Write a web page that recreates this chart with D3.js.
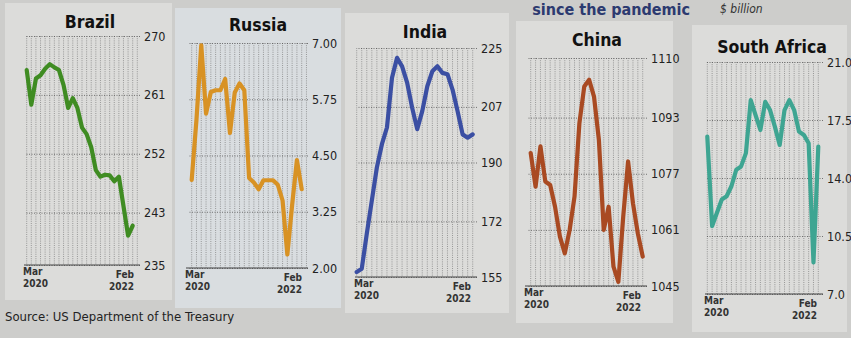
<!DOCTYPE html>
<html><head><meta charset="utf-8">
<script src="https://cdn.jsdelivr.net/npm/d3@7"></script>
<style>
body{margin:0;background:#cdcdcb;}
svg{display:block;}
text{font-family:"DejaVu Sans",sans-serif;font-stretch:condensed;fill:#222;}
</style></head><body>
<svg id="c" width="851" height="338"></svg>
<script>
// ---- data (monthly, Mar 2020 – Feb 2022), $ billion ----
const months = ["Mar 2020","Apr","May","Jun","Jul","Aug","Sep","Oct","Nov","Dec","Jan 2021","Feb","Mar","Apr","May","Jun","Jul","Aug","Sep","Oct","Nov","Dec","Jan 2022","Feb 2022"];
const countries = ["Brazil","Russia","India","China","South Africa"];
const brazil = [264.8,259.5,263.5,264,265,265.7,265.2,264.8,262.5,259,260.5,259,256,255,253,249.5,248.5,248.8,248.7,247.8,248.5,244,239.5,241];
const russia = [3.96,5.3,6.95,5.43,5.91,5.95,5.95,6.2,5.0,5.9,6.1,5.95,4.0,3.9,3.75,3.95,3.95,3.95,3.85,3.5,2.3,3.4,4.4,3.75];
const india = [156.5,157.5,168.2,178.4,188.5,195.6,200.7,215.9,222,219.4,214.4,206.7,200.2,205.7,213.3,217.9,219.4,217.4,217,212.3,205.7,198.6,197.6,198.6];
const china = [1082.9,1073.3,1084.8,1074.8,1073.8,1067.6,1059.1,1054.3,1061,1070.5,1091.4,1101.9,1103.8,1099,1086.7,1061,1067.6,1050.5,1046.2,1064.8,1080.5,1068.6,1060,1053.4];
const southAfrica = [16.5,11.1,11.9,12.7,12.9,13.5,14.5,14.7,15.5,18.7,17.8,16.9,18.6,18.1,17.1,16,18.1,18.7,18.1,16.8,16.6,16.1,8.9,15.9];
const brazilTicks = [235,243,252,261,270];
const russiaTicks = [2.00,3.25,4.50,5.75,7.00];
const indiaTicks = [155,172,190,207,225];
const chinaTicks = [1045,1061,1077,1093,1110];
const southAfricaTicks = [7.0,10.5,14.0,17.5,21.0];
const tickFormats = ["d",".2f","d","d",".1f"];
const seriesColors = ["#3f8c22","#d89224","#3b4fa3","#a94a22","#3ea592"];
const startLabel = ["Mar","2020"], endLabel = ["Feb","2022"];
const headline = "since the pandemic", unitLabel = "$ billion";
const sourceText = "Source: US Department of the Treasury";

const seriesData = [brazil,russia,india,china,southAfrica];
const tickData = [brazilTicks,russiaTicks,indiaTicks,chinaTicks,southAfricaTicks];

// ---- layout (photo is slightly tilted, so each panel sits a bit lower) ----
const layout = [
  {panel:[5,3,167,297],  plot:[26,140,36,265],  pts:[26.7,132.7], title:[90,28]},
  {panel:[175,8,166,300],plot:[188,308,43,268], pts:[191.7,301.7],title:[258,31]},
  {panel:[345,13,164,300],plot:[357,477,48,277],pts:[356.7,472.7],title:[425,38]},
  {panel:[516,21,157,302],plot:[527,647,58,286],pts:[530.7,642.7],title:[597,46]},
  {panel:[692,25,155,307],plot:[707,823,62,294],pts:[707.3,818.3],title:[772,53]}
];

const svg = d3.select("#c");
svg.append("rect").attr("width",851).attr("height",338).attr("fill","#cdcdcb");

countries.forEach((name,k)=>{
  const L = layout[k], vals = seriesData[k], ticks = tickData[k];
  const [pl,pr,pt,pb] = L.plot;
  const g = svg.append("g");
  g.append("rect").attr("x",L.panel[0]).attr("y",L.panel[1]).attr("width",L.panel[2]).attr("height",L.panel[3])
    .attr("fill", k===1 ? "#d9dde0" : "#dcdcda");
  const x = d3.scaleLinear().domain([0,vals.length-1]).range(L.pts);
  const y = d3.scaleLinear().domain(d3.extent(ticks)).range([pb,pt]);
  // vertical dotted grid (one per month, continuing to the plot edge)
  const step = x(1)-x(0);
  const vIdx = d3.range(0, Math.floor((pr - x(0))/step)+1);
  g.selectAll(".vg").data(vIdx).join("line")
    .attr("x1",d=>x(d)).attr("x2",d=>x(d)).attr("y1",pt).attr("y2",pb)
    .attr("stroke","#7a7a7a").attr("stroke-width",0.7).attr("stroke-dasharray","1,1.2");
  // horizontal dotted gridlines + tick labels via axis
  const axis = d3.axisRight(y).tickValues(ticks).tickFormat(d3.format(tickFormats[k]))
    .tickSize(-(pr-pl)).tickPadding(4);
  const ag = g.append("g").attr("transform",`translate(${pr},0)`).call(axis);
  ag.select(".domain").remove();
  ag.selectAll(".tick line").attr("stroke","#555").attr("stroke-width",0.8).attr("stroke-dasharray","1,1.5");
  ag.selectAll(".tick text").style("font-size","12.5px").style("fill","#222")
    .style("font-family","'DejaVu Sans',sans-serif").style("font-stretch","condensed");
  // baseline
  g.append("line").attr("x1",pl-2).attr("x2",pr).attr("y1",pb).attr("y2",pb).attr("stroke","#444").attr("stroke-width",1.2);
  // series line
  g.append("path").datum(vals)
    .attr("d", d3.line().x((d,i)=>x(i)).y(d=>y(d)))
    .attr("fill","none").attr("stroke",seriesColors[k]).attr("stroke-width",4.2)
    .attr("stroke-linejoin","round").attr("stroke-linecap","round");
  // title
  g.append("text").attr("x",L.title[0]).attr("y",L.title[1]).attr("text-anchor","middle")
    .style("font-weight","bold").style("font-size","17.5px").style("fill","#111").text(name);
  // date labels
  startLabel.forEach((t,j)=>g.append("text").attr("x",pl-3).attr("y",pb+10+j*12)
    .style("font-size","10px").style("font-weight","bold").style("fill","#333").text(t));
  endLabel.forEach((t,j)=>g.append("text").attr("x",pr-6).attr("y",pb+13+j*12).attr("text-anchor","end")
    .style("font-size","10px").style("font-weight","bold").style("fill","#333").text(t));
});

// header fragments, drawn on top
svg.append("text").attr("x",690).attr("y",15).attr("text-anchor","end")
  .style("font-weight","bold").style("font-size","16px").style("fill","#2c3a70").text(headline);
svg.append("text").attr("x",720).attr("y",13).style("font-style","italic")
  .style("font-size","12px").style("fill","#333").text(unitLabel);

svg.append("text").attr("x",5).attr("y",321).style("font-size","13px").style("fill","#222").text(sourceText);
</script></body></html>
